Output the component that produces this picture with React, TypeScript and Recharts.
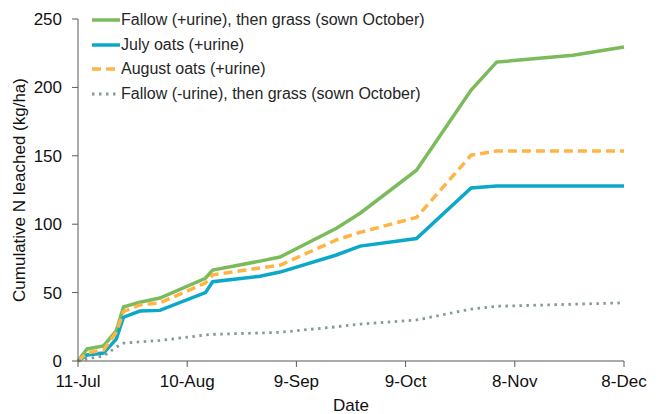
import React from "react";
import { LineChart, Line, XAxis, YAxis, Legend } from "recharts";

// days after 11-Jul
const days = [0, 2.5, 7, 10.5, 12.5, 17, 22.5, 35, 37, 50, 55.5, 71, 77.5, 93, 108, 115, 136, 150];
const fallowUrine = [0, 8.8, 11, 22, 39.5, 43, 46, 60.5, 66.5, 73, 76, 97, 108, 139.5, 198, 218.5, 223.5, 229.5];
const julyOats = [0, 4.4, 5.8, 16, 32, 36.5, 37, 50, 58, 62, 65, 77.5, 84, 89.5, 126.5, 128, 128, 128];
const augustOats = [0, 6, 8, 21, 36, 41, 42.5, 57, 63, 68, 70, 88.5, 94, 105, 150.5, 153.5, 153.5, 153.5];
const fallowNoUrine = [0, 1.5, 3.6, 10, 13, 14, 15, 19, 19.5, 20.5, 21, 25, 27, 30, 38, 40, 41.5, 42.5];

const xTicks = [0, 30, 60, 90, 120, 150];
const xTickLabels = ["11-Jul", "10-Aug", "9-Sep", "9-Oct", "8-Nov", "8-Dec"];
const yTicks = [0, 50, 100, 150, 200, 250];

const data = days.map((d, i) => ({
  day: d,
  fallowUrine: fallowUrine[i],
  julyOats: julyOats[i],
  augustOats: augustOats[i],
  fallowNoUrine: fallowNoUrine[i],
}));

const FONT = "Arial, 'Liberation Sans', sans-serif";
const AXIS = "#595959";

const series = [
  { key: "fallowUrine", name: "Fallow (+urine), then grass (sown October)", color: "#7CBB5B", width: 3.5, dash: undefined },
  { key: "julyOats", name: "July oats (+urine)", color: "#0CA8C8", width: 3.5, dash: undefined },
  { key: "augustOats", name: "August oats (+urine)", color: "#FFB446", width: 3.5, dash: "9 5" },
  { key: "fallowNoUrine", name: "Fallow (-urine), then grass (sown October)", color: "#869A96", width: 2.8, dash: "2.5 4.5" },
];

function LegendBox() {
  return (
    <div style={{ fontFamily: FONT, fontSize: 16, color: "#262626" }}>
      {series.map((s) => (
        <div key={s.key} style={{ display: "flex", alignItems: "center", height: 24.5 }}>
          <svg width={28} height={10}>
            <line x1={0} y1={5} x2={28} y2={5} stroke={s.color} strokeWidth={s.width} strokeDasharray={s.dash} />
          </svg>
          <span style={{ marginLeft: 1, whiteSpace: "nowrap" }}>{s.name}</span>
        </div>
      ))}
    </div>
  );
}

export default function App() {
  return (
    <div style={{ position: "absolute", left: 0, top: 0, width: 666, height: 414, background: "#fff" }}>
      <LineChart width={666} height={414} data={data} margin={{ top: 19, right: 42, bottom: 0, left: 18 }}>
        <XAxis
          dataKey="day"
          type="number"
          domain={[0, 150]}
          ticks={xTicks}
          tickFormatter={(v: number) => xTickLabels[xTicks.indexOf(v)]}
          height={53}
          stroke={AXIS}
          tickSize={6}
          tickMargin={8}
          tick={{ fill: "#111", fontSize: 17, fontFamily: FONT }}
          label={{
            content: (p: any) => (
              <text x={p.viewBox.x + p.viewBox.width / 2} y={411} textAnchor="middle" fill="#111" fontSize={17} fontFamily={FONT}>
                Date
              </text>
            ),
          }}
        />
        <YAxis
          domain={[0, 250]}
          ticks={yTicks}
          width={60}
          stroke={AXIS}
          tickSize={6}
          tickMargin={10}
          tick={{ fill: "#111", fontSize: 17, fontFamily: FONT }}
          label={{
            content: (p: any) => {
              const cx = 19;
              const cy = p.viewBox.y + p.viewBox.height / 2;
              return (
                <text x={cx} y={cy} transform={`rotate(-90 ${cx} ${cy})`} textAnchor="middle" dominantBaseline="central" fill="#111" fontSize={17} fontFamily={FONT}>
                  Cumulative N leached (kg/ha)
                </text>
              );
            },
          }}
        />
        <Legend
          layout="vertical"
          align="center"
          verticalAlign="middle"
          content={() => <LegendBox />}
          wrapperStyle={{ left: 92, top: 8, width: "auto" }}
        />
        {series.map((s) => (
          <Line
            key={s.key}
            type="linear"
            dataKey={s.key}
            name={s.name}
            stroke={s.color}
            strokeWidth={s.width}
            strokeDasharray={s.dash}
            dot={false}
            activeDot={false}
            isAnimationActive={false}
          />
        ))}
      </LineChart>
    </div>
  );
}
